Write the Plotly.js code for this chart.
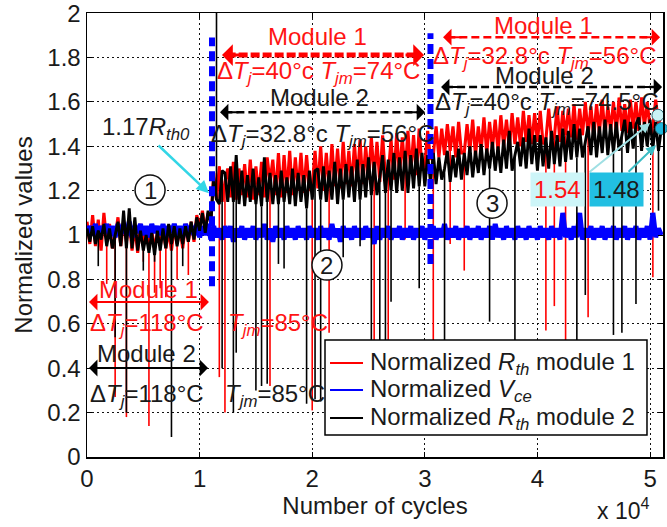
<!DOCTYPE html>
<html><head><meta charset="utf-8">
<script src="https://cdn.plot.ly/plotly-3.0.1.min.js"></script>
<style>html,body{margin:0;padding:0;background:#fff}#chart{width:667px;height:527px}</style>
</head><body><div id="chart"></div>
<script>
// ---------- data ----------
const cycleStep = 250; // sampling step of the noisy series, cycles

// normalized Rth, module 1 (noisy band)
const rthModule1 = [
 1.06,0.96,1.09,0.95,1.07,0.93,1.10,0.97,1.05,0.94, 0.99,1.08,0.95,1.06,0.97,1.07,0.93,1.04,0.92,1.05,
 0.95,1.03,0.96,1.02,0.94,1.01,0.95,1.03,0.94,1.02, 0.93,1.04,0.96,1.03,0.94,1.05,0.97,1.06,0.97,1.09,
 1.03,1.11,1.02,1.10,1.07,1.28,1.16,1.31,1.15,1.24, 1.30,1.17,1.33,1.16,1.30,1.18,1.32,1.17,1.34,1.16,
 1.31,1.18,1.33,1.17,1.35,1.24,1.34,1.18,1.37,1.17, 1.36,1.19,1.38,1.18,1.35,1.20,1.37,1.19,1.36,1.20,
 1.22,1.38,1.21,1.40,1.20,1.37,1.21,1.41,1.22,1.39, 1.21,1.42,1.23,1.38,1.22,1.41,1.24,1.43,1.23,1.40,
 1.25,1.44,1.26,1.42,1.24,1.45,1.26,1.27,1.43,1.25, 1.46,1.27,1.44,1.28,1.47,1.28,1.45,1.27,1.48,1.30,
 1.31,1.47,1.34,1.36,1.49,1.35,1.48,1.36,1.50,1.38, 1.49,1.35,1.51,1.37,1.37,1.50,1.38,1.52,1.36,1.49,
 1.38,1.53,1.37,1.51,1.39,1.52,1.38,1.54,1.40,1.52, 1.39,1.55,1.41,1.53,1.40,1.56,1.42,1.54,1.41,1.55,
 1.42,1.56,1.41,1.43,1.57,1.43,1.44,1.58,1.42,1.56, 1.45,1.57,1.44,1.59,1.43,1.57,1.45,1.60,1.45,1.58,
 1.44,1.59,1.46,1.61,1.45,1.58,1.47,1.60,1.46,1.62, 1.47,1.59,1.46,1.61,1.48,1.60,1.47,1.62,1.49,1.60,
 1.48,1.49,1.61,1.50,1.54
];
// isolated spikes of module 1: cycle and extreme value
const rth1SpikeCycles = [1750,2500,3500,5000,5500,6000,6500,7000,8000,9000, 11750,12250,16250,
  20000,21500,25500,26750,28250, 30750,32250,33500, 40750,41500,42500,44500,50250];
const rth1SpikeValues = [0.78,0.27,0.18,0.88,0.14,0.74,0.76,0.72,0.80,0.82, 0.36,0.20,0.32,
  0.21,0.56,0.35,0.35,0.98, 0.35,0.96,0.84, 0.57,0.68,0.40,0.63,0.81];

// normalized Vce
const vceNorm = [
 1.01,1.04,1.00,1.05,0.99,1.04,1.01,1.05,1.00,1.04, 0.99,1.05,1.01,1.04,1.00,1.06,0.99,1.04,1.01,1.05,
 1.00,1.04,0.99,1.05,1.01,1.04,1.00,1.05,0.99,1.04, 1.01,1.05,1.00,1.04,0.99,1.05,1.01,1.04,1.00,1.05,
 0.99,1.04,1.00,1.05,0.98,1.04,0.99,1.03,0.98,1.04, 0.99,1.04,0.97,1.03,0.99,1.04,0.98,1.03,0.99,1.04,
 0.98,1.03,0.99,1.05,0.98,1.03,0.97,1.04,0.99,1.03, 0.98,1.04,0.99,1.03,0.98,1.04,0.99,1.03,0.98,1.04,
 0.99,1.03,0.98,1.04,0.99,1.03,0.98,1.05,0.99,1.03, 0.97,1.04,0.99,1.03,0.98,1.04,0.99,1.03,0.98,1.04,
 0.99,1.03,0.96,1.04,0.98,1.03,0.99,1.04,0.98,1.03, 0.99,1.04,0.98,1.03,0.99,1.04,0.98,1.03,0.99,1.04,
 0.98,1.03,0.99,1.04,0.98,1.03,0.99,1.05,0.98,1.03, 0.99,1.04,0.98,1.03,0.99,1.04,0.98,1.03,0.99,1.04,
 0.98,1.03,0.99,1.04,0.98,1.05,0.99,1.03,0.98,1.04, 0.99,1.03,0.98,1.04,0.99,1.03,0.98,1.04,0.99,1.03,
 0.98,1.04,0.99,1.03,0.98,1.04,0.99,1.03,0.98,1.10, 0.99,1.03,0.98,1.04,0.99,1.10,0.98,1.03,0.99,1.04,
 0.98,1.03,0.99,1.04,0.98,1.03,0.99,1.04,0.98,1.03, 0.99,1.04,0.98,1.03,0.99,1.04,0.98,1.03,0.99,1.04,
 0.98,1.10,0.99,1.03,1.00
];

// normalized Rth, module 2 (noisy band)
const rthModule2 = [
 1.03,0.97,1.04,0.96,1.02,0.98,1.05,0.95,1.03,0.94, 1.00,1.06,0.95,1.11,0.94,1.12,0.94,1.08,0.93,1.02,
 0.93,1.00,0.92,1.01,0.91,1.02,0.93,1.03,0.94,1.05, 0.96,1.04,0.95,1.03,0.96,1.04,0.97,1.06,0.98,1.08,
 1.02,1.10,1.01,1.11,1.05,1.26,1.16,1.14,1.29,1.28, 1.15,1.31,1.15,1.36,1.14,1.29,1.13,1.27,1.15,1.30,
 1.14,1.26,1.13,1.35,1.15,1.28,1.14,1.27,1.14,1.29, 1.15,1.26,1.14,1.30,1.13,1.28,1.15,1.27,1.12,1.29,
 1.16,1.29,1.30,1.16,1.31,1.15,1.29,1.16,1.33,1.14, 1.30,1.16,1.32,1.17,1.31,1.15,1.34,1.16,1.32,1.17,
 1.35,1.18,1.33,1.18,1.26,1.36,1.19,1.34,1.20,1.37, 1.19,1.35,1.20,1.38,1.19,1.36,1.21,1.39,1.22,1.37,
 1.22,1.36,1.24,1.37,1.23,1.35,1.25,1.30,1.38,1.24, 1.36,1.26,1.39,1.25,1.37,1.27,1.40,1.26,1.38,1.28,
 1.41,1.27,1.39,1.30,1.42,1.29,1.40,1.28,1.43,1.30, 1.47,1.29,1.36,1.42,1.31,1.44,1.30,1.48,1.32,1.45,
 1.29,1.45,1.31,1.44,1.30,1.47,1.32,1.45,1.31,1.48, 1.33,1.47,1.34,1.50,1.35,1.48,1.35,1.42,1.49,1.36,
 1.51,1.35,1.49,1.37,1.52,1.36,1.50,1.37,1.51,1.38, 1.45,1.52,1.37,1.51,1.39,1.50,1.53,1.38,1.51,1.40,
 1.52,1.39,1.51,1.38,1.48
];
// isolated spikes of module 2: cycle and extreme value
const rth2SpikeCycles = [1000,2500,3500,5000,6000,7500,8500,
  11500,12000,13000,13250,15000,15500,16000,17000,17500,19500,
  20250,20750,22750,24250,25250,26000,26500,27000,29500,
  31750,35750,38000, 43500,44250,46750,47500,48750,50750];
const rth2SpikeValues = [0.86,0.54,0.20,0.84,0.88,0.09,0.86,
  2.30,0.40,0.20,0.47,0.30,0.32,0.33,0.87,0.85,0.24,
  0.26,0.25,0.90,0.95,0.38,0.36,0.40,0.70,0.76,
  0.40,0.61,0.45, 0.45,0.73,0.55,0.56,0.69,1.11];

const seriesNames = [
 'Normalized <i>R</i><sub><i>th</i></sub> module 1',
 'Normalized <i>V</i><sub><i>ce</i></sub>',
 'Normalized <i>R</i><sub><i>th</i></sub> module 2'
];

// condition-change markers (blue dashed verticals)
const transitionCycles = [11100, 30500];
const transitionBottom = [0.77, 0.87];
const transitionTop = [1.89, 1.91];

// final values highlighted at the end
const endCycles = [50700, 51000];
const endValues = [1.54, 1.48];
const endLabels = ['1.54', '1.48'];

const xTickVals = [0, 10000, 20000, 30000, 40000, 50000];
const xTickText = ['0', '1', '2', '3', '4', '5'];
const yTickVals = [0, 0.2, 0.4, 0.6, 0.8, 1, 1.2, 1.4, 1.6, 1.8, 2];
const yTickText = ['0', '0.2', '0.4', '0.6', '0.8', '1', '1.2', '1.4', '1.6', '1.8', '2'];

// ---------- build ----------
const FONT = 'Liberation Sans, Arial, Helvetica, sans-serif';
const RED = '#ff0000', BLUE = '#0000ff', BLACK = '#000000';
const TXT_RED = '#ff1414', TXT_BLK = '#1a1a1a';
const seriesColors = [RED, BLUE, BLACK];
const cycles = rthModule1.map((_, i) => i * cycleStep);

function spikeTrace(spCycles, spValues, series, color) {
  const xs = [], ys = [];
  spCycles.forEach((c, i) => {
    const base = series[Math.min(series.length - 1, Math.round(c / cycleStep))];
    xs.push(c, c, null);
    ys.push(base, spValues[i], null);
  });
  return {x: xs, y: ys, type: 'scatter', mode: 'lines', showlegend: false, hoverinfo: 'skip',
          line: {color: color, width: 1.6}};
}

const trLineX = [], trLineY = [];
transitionCycles.forEach((c, i) => {
  trLineX.push(c, c, null);
  trLineY.push(transitionBottom[i], transitionTop[i], null);
});

const traces = [
  {x: cycles, y: rthModule1, type: 'scatter', mode: 'lines', name: seriesNames[0], showlegend: false,
   line: {color: RED, width: 3.1, simplify: false}},
  spikeTrace(rth1SpikeCycles, rth1SpikeValues, rthModule1, RED),
  {x: cycles, y: vceNorm, type: 'scatter', mode: 'lines', name: seriesNames[1], showlegend: false,
   line: {color: BLUE, width: 5, simplify: false}},
  {x: cycles, y: rthModule2, type: 'scatter', mode: 'lines', name: seriesNames[2], showlegend: false,
   line: {color: BLACK, width: 2.9, simplify: false}},
  spikeTrace(rth2SpikeCycles, rth2SpikeValues, rthModule2, BLACK),
  {x: trLineX, y: trLineY, type: 'scatter', mode: 'lines', showlegend: false, hoverinfo: 'skip',
   line: {color: BLUE, width: 6, dash: '10px,5px'}},
  {x: endCycles, y: endValues, type: 'scatter', mode: 'markers', showlegend: false, cliponaxis: false,
   marker: {size: 12, color: ['#c9f3f6', '#1fb8de'], line: {color: '#2c6e78', width: 1}}}
];

function body(x0, x1, y, color, width, dash) {
  return {type: 'line', xref: 'x', yref: 'y', x0: x0, x1: x1, y0: y, y1: y, layer: 'above',
          line: {color: color, width: width, dash: dash}};
}
function head(x, y, dir, color, w, s) {
  return {x: x, y: y, xref: 'x', yref: 'y', ax: dir * 20, ay: 0, text: '', showarrow: true,
          arrowhead: 1, arrowsize: s, arrowwidth: w, arrowcolor: color};
}
function circ(x, y) {
  return {type: 'circle', xref: 'x', yref: 'y', xsizemode: 'pixel', ysizemode: 'pixel',
          xanchor: x, yanchor: y, x0: -15, x1: 15, y0: -15, y1: 15, layer: 'above',
          fillcolor: 'white', line: {color: '#111', width: 1.5}};
}
function txt(x, y, text, color, xanchor) {
  return {x: x, y: y, xref: 'x', yref: 'y', text: text, showarrow: false,
          xanchor: xanchor || 'center', yanchor: 'middle', font: {family: FONT, size: 24, color: color}};
}
const dT = (a) => 'Δ<i>T</i><sub><i>j</i></sub>=' + a;
const Tjm = (a) => '<i>T</i><sub><i>jm</i></sub>=' + a;

// legend box (drawn by hand so that the row spacing matches)
const legendBox = {x0: 0.4132, x1: 0.9722, y0: 0.0495, y1: 0.2635};
const legendRowsY = [0.2117, 0.1509, 0.0878];
const legendLineX = [0.4219, 0.4792];
const legendTextX = 0.4878;

const shapes = [
  body(12400, 29500, 1.811, RED, 5, '9px,3px'),
  body(12200, 29600, 1.554, BLACK, 2.5, '8px,4px'),
  body(32000, 50500, 1.892, RED, 2.5, '8px,4px'),
  body(31800, 50700, 1.667, BLACK, 2.5, '8px,4px'),
  body(500, 10500, 0.698, RED, 2, 'solid'),
  body(500, 10400, 0.401, BLACK, 2, 'solid'),
  circ(5600, 1.203), circ(21310, 0.865), circ(35970, 1.144),
  {type: 'rect', xref: 'paper', yref: 'paper', x0: legendBox.x0, x1: legendBox.x1, y0: legendBox.y0, y1: legendBox.y1,
   layer: 'above', fillcolor: '#fff', line: {color: '#000', width: 1.5}}
];
legendRowsY.forEach((y, i) => shapes.push({type: 'line', xref: 'paper', yref: 'paper',
  x0: legendLineX[0], x1: legendLineX[1], y0: y, y1: y, layer: 'above',
  line: {color: seriesColors[i], width: 1.8}}));

const annotations = [
  head(11990, 1.811, 1, RED, 3, 1.2), head(29930, 1.811, -1, RED, 3, 1.2),
  head(11810, 1.554, 1, BLACK, 2, 1.4), head(30020, 1.554, -1, BLACK, 2, 1.4),
  head(31620, 1.892, 1, RED, 2, 1.4), head(50890, 1.892, -1, RED, 2, 1.4),
  head(31440, 1.667, 1, BLACK, 2, 1.4), head(51070, 1.667, -1, BLACK, 2, 1.4),
  head(180, 0.698, 1, RED, 2, 1.4), head(10830, 0.698, -1, RED, 2, 1.4),
  head(180, 0.401, 1, BLACK, 2, 1.4), head(10750, 0.401, -1, BLACK, 2, 1.4),

  txt(20430, 1.896, 'Module 1', TXT_RED),
  txt(20520, 1.734, dT('40°c ') + Tjm('74°C'), TXT_RED),
  txt(20690, 1.622, 'Module 2', TXT_BLK),
  txt(20870, 1.450, dT('32.8°c ') + Tjm('56°C'), TXT_BLK),

  txt(40500, 1.946, 'Module 1', TXT_RED),
  txt(40670, 1.802, dT('32.8°c ') + Tjm('56°C'), TXT_RED),
  txt(40590, 1.721, 'Module 2', TXT_BLK),
  txt(40760, 1.595, dT('40°c ') + Tjm('74.5°C'), TXT_BLK),

  txt(5420, 0.757, 'Module 1', TXT_RED),
  txt(90, 0.595, dT('118°C'), TXT_RED, 'left'),
  txt(12340, 0.595, Tjm('85°C'), TXT_RED, 'left'),
  txt(5240, 0.468, 'Module 2', TXT_BLK),
  txt(90, 0.279, dT('118°C'), TXT_BLK, 'left'),
  txt(12080, 0.279, Tjm('85°C'), TXT_BLK, 'left'),

  txt(5240, 1.482, '1.17<i>R</i><sub><i>th0</i></sub>', TXT_BLK),
  {x: 10830, y: 1.189, ax: 6220, ay: 1.41, axref: 'x', ayref: 'y', xref: 'x', yref: 'y', text: '',
   showarrow: true, arrowhead: 2, arrowsize: 1, arrowwidth: 2.5, arrowcolor: '#33d6e6'},

  txt(5600, 1.203, '1', TXT_BLK), txt(21310, 0.865, '2', TXT_BLK), txt(35970, 1.144, '3', TXT_BLK),

  {x: 50000, y: 1.505, ax: 44490, ay: 1.279, axref: 'x', ayref: 'y', xref: 'x', yref: 'y', text: '',
   showarrow: true, arrowhead: 2, arrowsize: 1, arrowwidth: 2, arrowcolor: '#9fdfe3'},
  {x: 50530, y: 1.405, ax: 47960, ay: 1.279, axref: 'x', ayref: 'y', xref: 'x', yref: 'y', text: '',
   showarrow: true, arrowhead: 2, arrowsize: 1, arrowwidth: 2, arrowcolor: '#3cbcc4'},
  {x: 41740, y: 1.207, xref: 'x', yref: 'y', text: endLabels[0], showarrow: false, bgcolor: '#cdf5f8',
   borderpad: 3, font: {family: FONT, size: 24, color: TXT_RED}},
  {x: 46980, y: 1.207, xref: 'x', yref: 'y', text: endLabels[1], showarrow: false, bgcolor: '#22bfe2',
   borderpad: 3, font: {family: FONT, size: 24, color: TXT_BLK}},

  {x: 0.93, y: -0.117, xref: 'paper', yref: 'paper', text: 'x 10<sup>4</sup>', showarrow: false,
   xanchor: 'center', yanchor: 'middle', font: {family: FONT, size: 23, color: TXT_BLK}}
];
legendRowsY.forEach((y, i) => annotations.push({x: legendTextX, y: y, xref: 'paper', yref: 'paper',
  text: seriesNames[i], showarrow: false, xanchor: 'left', yanchor: 'middle',
  font: {family: FONT, size: 24, color: TXT_BLK}}));

const axisCommon = {
  showline: true, mirror: 'ticks', linecolor: '#000', linewidth: 1.5,
  ticks: 'inside', ticklen: 5, tickcolor: '#000', tickwidth: 1,
  showgrid: true, gridcolor: '#111', gridwidth: 1, griddash: '2px,3px',
  zeroline: false, ticklabeloverflow: 'allow',
  tickfont: {family: FONT, size: 24, color: TXT_BLK}
};

const layout = {
  width: 667, height: 527,
  margin: {l: 87, r: 4, t: 13, b: 70},
  paper_bgcolor: '#fff', plot_bgcolor: '#fff',
  font: {family: FONT, size: 24, color: TXT_BLK},
  showlegend: false,
  xaxis: Object.assign({}, axisCommon, {
    range: [0, 51150], tickmode: 'array', tickvals: xTickVals, ticktext: xTickText,
    title: {text: 'Number of cycles', font: {family: FONT, size: 24, color: TXT_BLK}, standoff: 4}
  }),
  yaxis: Object.assign({}, axisCommon, {
    range: [0, 2.0008], tickmode: 'array', tickvals: yTickVals, ticktext: yTickText,
    title: {text: 'Normalized values', font: {family: FONT, size: 24, color: TXT_BLK}, standoff: 8}
  }),
  shapes: shapes,
  annotations: annotations
};

Plotly.newPlot('chart', traces, layout, {displayModeBar: false, staticPlot: true});
</script>
</body></html>
